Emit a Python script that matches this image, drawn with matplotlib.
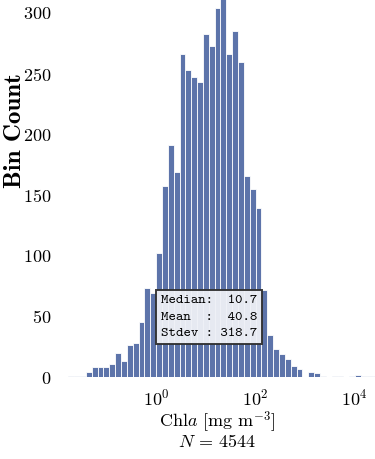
import numpy as np
import matplotlib.pyplot as plt

plt.rcParams['font.family'] = 'serif'
plt.rcParams['font.serif'] = ['cmr10']
plt.rcParams['mathtext.fontset'] = 'cm'
plt.rcParams['axes.formatter.use_mathtext'] = True

# histogram de Chla (bins em log10)
log_lo = -1.773
log_step = 0.1182
counts = [1, 1, 1,
          4, 8, 8, 8, 11, 20, 13, 26, 28, 45, 73, 69, 102, 157, 191, 169,
          266, 253, 247, 243, 283, 273, 304, 312, 266, 285, 260, 166, 155,
          139, 72, 35, 23, 19, 15, 9, 7, 0, 4, 3, 1, 0, 1, 1, 0, 1, 2, 1, 1, 1]
stats_txt = "Median:  10.7\nMean  :  40.8\nStdev : 318.7"
n_total = 4544

edges = 10 ** (log_lo + log_step * np.arange(len(counts) + 1))

fig = plt.figure(figsize=(3.75, 4.59), dpi=100)
ax = fig.add_axes([0.16, 1 - 377 / 459, 0.84, 377 / 459])

ax.bar(edges[:-1], counts, width=np.diff(edges), align='edge',
       color='#5d74aa', edgecolor='white', linewidth=0.6)
ax.set_xscale('log')
ax.set_xlim(10 ** -1.94, 10 ** 4.42)
ax.set_ylim(0, 310.7)
ax.set_yticks([0, 50, 100, 150, 200, 250, 300])
ax.set_xticks([1, 100, 10000])
ax.minorticks_off()
ax.tick_params(length=0, labelsize=13)
ax.tick_params(axis='x', pad=8)
ax.tick_params(axis='y', pad=6)
for s in ax.spines.values():
    s.set_visible(False)

ax.set_ylabel('Bin Count', fontfamily='cmb10', fontsize=18)
ax.yaxis.set_label_coords(-0.108, 0.655)
ax.set_xlabel('Chl$a$ [mg m$^{-3}$]\n$N$ = %d' % n_total, fontsize=13,
              labelpad=1, linespacing=0.8)

ax.text(0.473, 0.159, stats_txt, transform=ax.transAxes, ha='center',
        va='center', fontfamily='cmtt10', fontsize=10.2, linespacing=1.65,
        bbox=dict(boxstyle='square,pad=0.35', facecolor='#eef0f6',
                  edgecolor='#303030', linewidth=1.4, alpha=0.95))

plt.savefig('out.png', dpi=100)
